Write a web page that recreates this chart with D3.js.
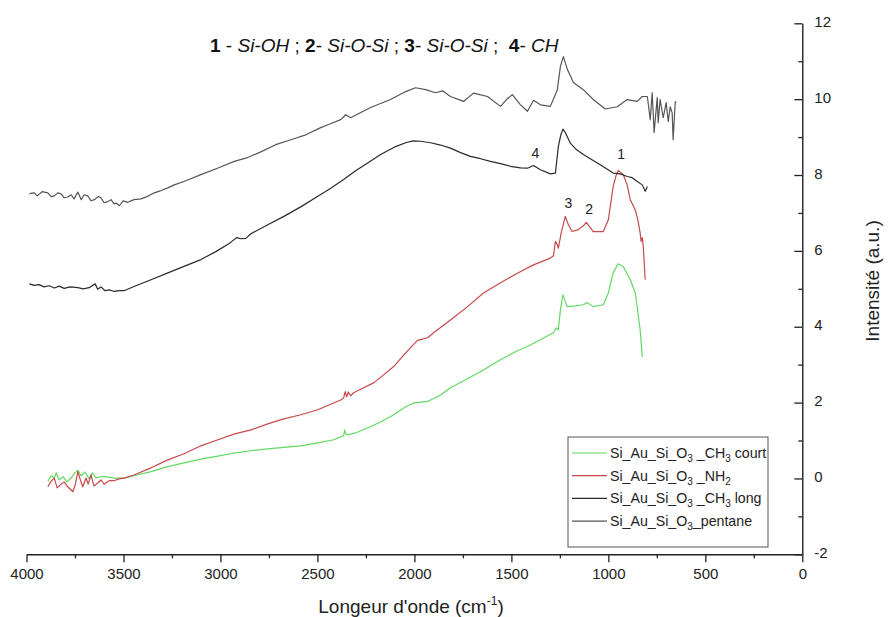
<!DOCTYPE html>
<html>
<head>
<meta charset="utf-8">
<script src="https://cdn.jsdelivr.net/npm/d3@7"></script>
<style>
  html, body { margin: 0; padding: 0; background: #fff; }
  svg { display: block; font-family: "Liberation Sans", Arial, sans-serif; }
  text { white-space: pre; }
</style>
</head>
<body>
<svg id="chart" width="889" height="617"></svg>
<script>
// FTIR spectra: wavenumber (cm-1) and intensity (a.u.) for each sample
const pentaneWave = [3985,3960,3945,3919,3890,3873,3857,3837,3821,3806,3787,3770,3755,3735,3718,3703,3684,3667,3650,3631,3616,3600,3581,3564,3549,3538,3521,3502,3478,3446,3410,3379,3341,3307,3272,3238,3178,3101,3015,2929,2860,2792,2715,2637,2560,2483,2430,2380,2354,2329,2226,2123,2045,1994,1942,1891,1855,1814,1747,1695,1623,1556,1525,1495,1453,1417,1386,1350,1299,1273,1263,1247,1232,1211,1180,1129,1078,1016,954,903,851,825,799,784,774,764,748,743,733,717,702,691,681,671,666,655,650];
const pentaneInt  = [7.51,7.53,7.45,7.56,7.53,7.43,7.45,7.53,7.50,7.40,7.42,7.48,7.37,7.55,7.35,7.48,7.45,7.32,7.35,7.43,7.40,7.27,7.30,7.35,7.24,7.26,7.19,7.32,7.28,7.35,7.37,7.43,7.53,7.59,7.66,7.74,7.85,8.01,8.18,8.36,8.46,8.61,8.80,8.93,9.06,9.25,9.36,9.46,9.59,9.51,9.78,9.99,10.20,10.30,10.25,10.17,10.22,10.07,9.94,10.16,10.07,9.81,9.99,10.12,9.85,9.68,9.97,9.85,9.81,10.12,10.25,10.87,11.12,10.78,10.44,10.25,9.99,9.74,9.80,9.99,9.94,10.07,10.07,9.46,10.17,9.12,10.04,9.38,9.99,9.51,9.91,9.41,9.80,9.64,8.93,9.93,9.91];

const longWave = [3985,3960,3935,3909,3883,3856,3832,3806,3775,3735,3708,3677,3646,3633,3616,3595,3569,3549,3523,3497,3446,3358,3271,3188,3101,3024,2957,2931,2915,2895,2869,2843,2756,2673,2586,2498,2431,2365,2303,2241,2174,2097,2045,2009,1968,1917,1865,1814,1762,1711,1659,1608,1556,1505,1453,1417,1386,1350,1299,1273,1258,1245,1234,1222,1196,1165,1129,1042,975,939,903,877,851,825,810,799];
const longInt  = [5.13,5.09,5.11,5.05,5.08,5.02,5.07,5.01,5.05,5.03,5.00,5.03,5.13,4.99,5.05,4.95,4.97,4.93,4.95,4.95,5.06,5.24,5.42,5.59,5.77,5.98,6.19,6.29,6.35,6.32,6.33,6.45,6.69,6.91,7.16,7.44,7.65,7.88,8.11,8.32,8.54,8.75,8.85,8.90,8.89,8.85,8.79,8.71,8.59,8.49,8.43,8.36,8.30,8.23,8.19,8.18,8.25,8.14,8.03,8.05,8.75,9.06,9.21,9.12,8.84,8.67,8.54,8.27,8.05,8.03,7.96,7.93,7.83,7.74,7.57,7.70];

const nh2Wave = [3890,3873,3857,3842,3821,3806,3787,3761,3749,3735,3724,3710,3693,3682,3667,3652,3633,3616,3600,3574,3549,3523,3497,3446,3358,3271,3188,3101,3013,2931,2843,2756,2673,2586,2498,2416,2380,2365,2357,2349,2341,2329,2313,2262,2210,2159,2107,2045,1984,1932,1901,1814,1726,1644,1556,1469,1386,1299,1283,1273,1263,1258,1242,1222,1206,1187,1155,1129,1114,1093,1078,1026,1000,975,959,949,923,903,887,861,846,836,831,825,820,810];
const nh2Int  = [-0.22,-0.07,0.01,-0.25,-0.15,-0.09,-0.22,-0.35,-0.17,0.18,-0.01,-0.22,0.01,-0.15,0.09,-0.20,-0.12,-0.04,-0.15,-0.06,-0.06,-0.01,0.01,0.09,0.28,0.49,0.65,0.86,1.02,1.17,1.28,1.44,1.57,1.68,1.81,1.99,2.07,2.12,2.29,2.15,2.28,2.18,2.26,2.39,2.52,2.73,2.95,3.31,3.64,3.71,3.84,4.18,4.53,4.89,5.16,5.41,5.63,5.81,5.87,6.25,6.16,6.07,6.50,6.91,6.69,6.51,6.56,6.66,6.75,6.61,6.51,6.51,6.82,7.70,8.01,8.12,8.01,7.74,7.35,7.08,6.77,6.47,6.25,6.35,6.12,5.24];

const courtWave = [3890,3873,3857,3847,3832,3811,3791,3770,3755,3735,3718,3698,3677,3662,3641,3616,3585,3549,3497,3446,3358,3271,3188,3101,3013,2931,2843,2756,2673,2586,2498,2416,2365,2359,2354,2346,2303,2243,2174,2107,2045,2004,1932,1865,1814,1726,1644,1556,1479,1402,1325,1283,1268,1258,1247,1234,1213,1170,1129,1110,1078,1026,1000,975,950,923,887,861,851,836,825];
const courtInt  = [-0.08,0.07,0.01,0.15,-0.04,0.04,-0.09,0.01,0.12,0.22,0.07,0.17,-0.01,0.15,0.01,0.05,0.04,0.01,0.01,0.07,0.18,0.31,0.41,0.51,0.59,0.67,0.73,0.78,0.82,0.86,0.94,1.02,1.13,1.28,1.17,1.15,1.20,1.33,1.49,1.68,1.89,1.99,2.03,2.20,2.39,2.63,2.86,3.13,3.34,3.52,3.73,3.84,3.97,3.92,4.45,4.84,4.53,4.55,4.58,4.64,4.53,4.58,4.89,5.42,5.66,5.59,5.24,4.89,4.50,3.92,3.21];

// Band assignments marked on the spectra
const bandLabels = ["1", "2", "3", "4"];
const bandWave   = [949, 1114, 1222, 1386];
const bandInt    = [8.12, 6.75, 6.91, 8.25];

const xTicks = [4000, 3500, 3000, 2500, 2000, 1500, 1000, 500, 0];
const yTicks = [-2, 0, 2, 4, 6, 8, 10, 12];

const seriesNames  = ["court", "nh2", "long", "pentane"];
const seriesColors = ["#62d862", "#c8484a", "#2a2a2a", "#555555"];

const svg = d3.select("#chart");
const plot = { left: 26.5, right: 802.3, top: 23.3, bottom: 554.3 };

const x = d3.scaleLinear().domain([4000, 0]).range([plot.left, plot.right]);
const y = d3.scaleLinear().domain([-2, 12]).range([plot.bottom, plot.top]);

// Axes
const xAxis = d3.axisBottom(x).tickValues(d3.range(0, 4001, 250))
  .tickSize(0).tickFormat("");
const gx = svg.append("g").attr("transform", `translate(0,${plot.bottom})`).call(xAxis);
gx.select(".domain").attr("stroke", "#222").attr("stroke-width", 1.4);
gx.selectAll(".tick line")
  .attr("y2", d => d % 500 === 0 ? 8 : 4)
  .attr("stroke", "#222").attr("stroke-width", 1.3);
gx.selectAll(".tick").filter(d => xTicks.includes(d)).append("text")
  .attr("y", 25).attr("fill", "#222").attr("text-anchor", "middle")
  .attr("font-size", 15).text(d => d);

const yAxis = d3.axisRight(y).tickValues(d3.range(-2, 12.1, 1))
  .tickSize(0).tickFormat("");
const gy = svg.append("g").attr("transform", `translate(${plot.right},0)`).call(yAxis);
gy.select(".domain").attr("stroke", "#222").attr("stroke-width", 1.4);
gy.selectAll(".tick line")
  .attr("x2", d => d % 2 === 0 ? -8 : -4)
  .attr("stroke", "#222").attr("stroke-width", 1.3);
gy.selectAll(".tick").filter(d => yTicks.includes(d)).append("text")
  .attr("x", 12).attr("y", -2).attr("dy", "0.35em").attr("fill", "#222")
  .attr("text-anchor", "start").attr("font-size", 15).text(d => d);

// Axis titles
const xt = svg.append("text").attr("x", 411).attr("y", 613)
  .attr("text-anchor", "middle").attr("font-size", 19).attr("fill", "#222");
xt.append("tspan").text("Longeur d'onde (cm");
xt.append("tspan").attr("font-size", 12).attr("dy", -8).text("-1");
xt.append("tspan").attr("dy", 8).text(")");

svg.append("text").attr("transform", "translate(879,281) rotate(-90)")
  .attr("text-anchor", "middle").attr("font-size", 19).attr("fill", "#222")
  .text("Intensité (a.u.)");

// Title listing the band assignments
const title = svg.append("text").attr("x", 210).attr("y", 52)
  .attr("font-size", 19).attr("fill", "#111");
[["1", "b"], [" - ", "n"], ["Si-OH", "i"], [" ; ", "n"],
 ["2", "b"], ["- ", "n"], ["Si-O-Si", "i"], [" ; ", "n"],
 ["3", "b"], ["- ", "n"], ["Si-O-Si", "i"], [" ;  ", "n"],
 ["4", "b"], ["- ", "n"], ["CH", "i"]].forEach(([t, s]) => {
  title.append("tspan")
    .attr("font-weight", s === "b" ? "bold" : "normal")
    .attr("font-style", s === "i" ? "italic" : "normal")
    .text(t);
});

// Spectra
const series = [
  { wave: courtWave, val: courtInt },
  { wave: nh2Wave, val: nh2Int },
  { wave: longWave, val: longInt },
  { wave: pentaneWave, val: pentaneInt }
];
const line = d3.line().x(d => x(d[0])).y(d => y(d[1]));
series.forEach((s, i) => {
  svg.append("path")
    .datum(s.wave.map((w, k) => [w, s.val[k]]))
    .attr("fill", "none")
    .attr("stroke", seriesColors[i])
    .attr("stroke-width", 1.2)
    .attr("stroke-linejoin", "round")
    .attr("d", line)
    .attr("class", "spectrum-" + seriesNames[i]);
});

// Band numbers above their peaks
const labelOffset = [11, 8, 8, 8];
bandLabels.forEach((t, i) => {
  svg.append("text")
    .attr("x", x(bandWave[i]) + (i === 3 ? 2 : 3))
    .attr("y", y(bandInt[i]) - labelOffset[i])
    .attr("text-anchor", "middle").attr("font-size", 14).attr("fill", "#222")
    .text(t);
});

// Legend
const lg = svg.append("g");
lg.append("rect").attr("x", 568).attr("y", 437).attr("width", 200).attr("height", 110)
  .attr("fill", "#fff").attr("stroke", "#555").attr("stroke-width", 1);
const legendRows = [
  [["Si_Au_Si_O", 0], ["3", 1], [" _CH", 0], ["3", 1], [" court", 0]],
  [["Si_Au_Si_O", 0], ["3", 1], [" _NH", 0], ["2", 1]],
  [["Si_Au_Si_O", 0], ["3", 1], [" _CH", 0], ["3", 1], [" long", 0]],
  [["Si_Au_Si_O", 0], ["3", 1], ["_pentane", 0]]
];
legendRows.forEach((row, i) => {
  const yy = 453 + i * 22.7;
  lg.append("line").attr("x1", 572).attr("x2", 607).attr("y1", yy).attr("y2", yy)
    .attr("stroke", seriesColors[i]).attr("stroke-width", 1.2);
  const t = lg.append("text").attr("x", 610).attr("y", yy + 5)
    .attr("font-size", 14.2).attr("fill", "#222");
  let sub = false;
  row.forEach(([s, isSub]) => {
    const ts = t.append("tspan").text(s);
    if (isSub && !sub) { ts.attr("dy", 4).attr("font-size", 10); sub = true; }
    else if (!isSub && sub) { ts.attr("dy", -4); sub = false; }
    else if (isSub) ts.attr("font-size", 10);
  });
});
</script>
</body>
</html>
